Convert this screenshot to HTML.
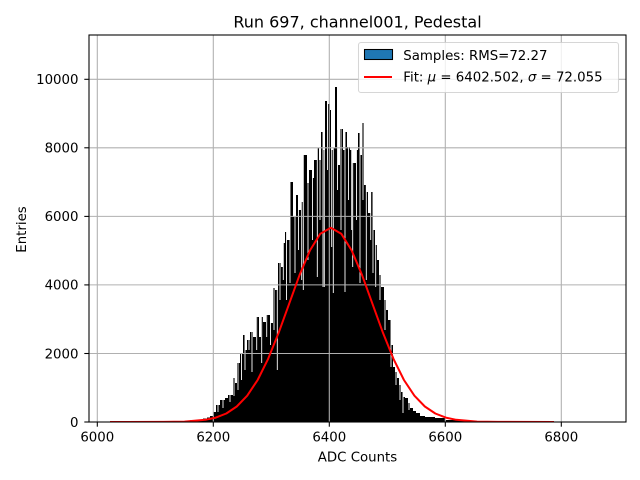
<!DOCTYPE html>
<html><head><meta charset="utf-8"><style>
html,body{margin:0;padding:0;background:#fff;}
svg{display:block;}
text{font-family:"DejaVu Sans","Liberation Sans",sans-serif;fill:#000;}
</style></head><body>
<svg width="640" height="480" viewBox="0 0 640 480" xmlns="http://www.w3.org/2000/svg">
<defs><clipPath id="ax"><rect x="89" y="35" width="537" height="387"/></clipPath></defs>
<rect x="0" y="0" width="640" height="480" fill="#fff"/>
<g clip-path="url(#ax)">
<path fill="#000" d="M110,422 V421.6 H150 V421.3 H175 V421 H190 V420.3 H197 V419.5 H203 V418.5 H207 V417.5 H210 V416 H213 V412 H216 V405 H220 V400 H225 V398 H228 V395 H233 V378 H235 V383 H237 V363 H240 V353 H243 V335 H245 V350 H247 V340 H250 V332 H253 V337 H256 V317 H259 V337 H261 V317 H263 V322 H266 V315 H270 V323 H273 V288 H275 V290 H278 V263 H281 V267 H283 V243 H285 V232 H287 V240 H290 V182 H293 V217 H296 V195 H298 V210 H301 V202 H303 V155 H307 V183 H309 V170 H312 V178 H314 V160 H317 V148 H319 V160 H321 V132 H323 V150 H325 V101 H327 V130 H328 V104 H330 V110 H331 V150 H333 V148 H335 V87 H337 V130 H338 V165 H340 V129 H343 V150 H345 V132 H347 V147 H350 V150 H352 V163 H356 V150 H358 V133 H360 V155 H362 V123 H364 V185 H366 V192 H368 V213 H371 V192 H373 V230 H375 V245 H377 V260 H379 V275 H381 V287 H384 V300 H386 V310 H388 V320 H391 V345 H393 V367 H395 V372 H397 V378 H399 V385 H401 V392 H403 V397 H405 V398 H408 V403 H410 V408 H413 V411 H416 V413 H420 V416 H425 V417 H435 V418 H445 V420 H460 V421 H480 V421.5 H500 V422 Z"/>
<g stroke="#fff" stroke-width="0.9">
<line x1="218" y1="405" x2="218" y2="412"/>
<line x1="223" y1="400" x2="223" y2="408"/>
<line x1="230" y1="395" x2="230" y2="402"/>
<line x1="234" y1="378" x2="234" y2="396"/>
<line x1="238" y1="360" x2="238" y2="390"/>
<line x1="241.5" y1="353" x2="241.5" y2="380"/>
<line x1="245" y1="335" x2="245" y2="370"/>
<line x1="249" y1="340" x2="249" y2="350"/>
<line x1="252" y1="332" x2="252" y2="372"/>
<line x1="256.7" y1="317" x2="256.7" y2="350"/>
<line x1="261.7" y1="317" x2="261.7" y2="363"/>
<line x1="266.7" y1="315" x2="266.7" y2="337"/>
<line x1="270.5" y1="315" x2="270.5" y2="345"/>
<line x1="274" y1="288" x2="274" y2="330"/>
<line x1="277.3" y1="263" x2="277.3" y2="370"/>
<line x1="280" y1="263" x2="280" y2="300"/>
<line x1="283.3" y1="243" x2="283.3" y2="280"/>
<line x1="286.5" y1="232" x2="286.5" y2="300"/>
<line x1="290" y1="182" x2="290" y2="283"/>
<line x1="295" y1="195" x2="295" y2="273"/>
<line x1="298.5" y1="195" x2="298.5" y2="250"/>
<line x1="301.7" y1="202" x2="301.7" y2="280"/>
<line x1="303.3" y1="155" x2="303.3" y2="290"/>
<line x1="308" y1="170" x2="308" y2="260"/>
<line x1="312.5" y1="170" x2="312.5" y2="240"/>
<line x1="317.3" y1="148" x2="317.3" y2="277"/>
<line x1="320" y1="148" x2="320" y2="220"/>
<line x1="323" y1="132" x2="323" y2="287"/>
<line x1="324.3" y1="101" x2="324.3" y2="287"/>
<line x1="327.5" y1="101" x2="327.5" y2="170"/>
<line x1="331.7" y1="110" x2="331.7" y2="247"/>
<line x1="333.3" y1="87" x2="333.3" y2="293"/>
<line x1="337.5" y1="87" x2="337.5" y2="190"/>
<line x1="341" y1="129" x2="341" y2="230"/>
<line x1="345" y1="132" x2="345" y2="292"/>
<line x1="348.5" y1="132" x2="348.5" y2="200"/>
<line x1="351.7" y1="150" x2="351.7" y2="230"/>
<line x1="352.7" y1="150" x2="352.7" y2="267"/>
<line x1="356.5" y1="150" x2="356.5" y2="220"/>
<line x1="360" y1="133" x2="360" y2="283"/>
<line x1="363" y1="123" x2="363" y2="200"/>
<line x1="366.3" y1="185" x2="366.3" y2="280"/>
<line x1="370.7" y1="192" x2="370.7" y2="240"/>
<line x1="373" y1="192" x2="373" y2="273"/>
<line x1="375.7" y1="230" x2="375.7" y2="287"/>
<line x1="380" y1="260" x2="380" y2="300"/>
<line x1="385" y1="287" x2="385" y2="330"/>
<line x1="391" y1="320" x2="391" y2="367"/>
<line x1="396" y1="367" x2="396" y2="385"/>
<line x1="400" y1="385" x2="400" y2="400"/>
<line x1="403" y1="392" x2="403" y2="413"/>
<line x1="409" y1="398" x2="409" y2="410"/>
</g>
<g stroke="#b0b0b0" stroke-width="1.07">
<line x1="97.3" y1="35" x2="97.3" y2="422"/>
<line x1="213.3" y1="35" x2="213.3" y2="422"/>
<line x1="329.3" y1="35" x2="329.3" y2="422"/>
<line x1="445.3" y1="35" x2="445.3" y2="422"/>
<line x1="561.3" y1="35" x2="561.3" y2="422"/>
<line x1="89" y1="79.3" x2="626" y2="79.3"/>
<line x1="89" y1="147.8" x2="626" y2="147.8"/>
<line x1="89" y1="216.4" x2="626" y2="216.4"/>
<line x1="89" y1="284.9" x2="626" y2="284.9"/>
<line x1="89" y1="353.5" x2="626" y2="353.5"/>
</g>
<polyline fill="none" stroke="#ff0000" stroke-width="2" stroke-linejoin="round" points="110,422 163.6,421.9 184.5,421.6 205.4,419.8 215.85,417.6 226.3,413.5 236.75,406.5 247.2,395.7 257.65,380.0 268.1,358.9 278.55,333.05 289.0,304.2 299.45,275.3 309.9,250.5 320.35,233.7 330.8,227.7 341.25,233.7 351.7,250.5 362.15,275.3 372.6,304.2 383.05,333.05 393.5,358.9 403.95,380.0 414.4,395.7 424.85,406.5 435.3,413.5 445.75,417.6 456.2,419.8 477.1,421.6 498,421.9 554,422"/>
</g>
<rect x="89" y="35" width="537" height="387" fill="none" stroke="#000" stroke-width="1.07"/>
<g stroke="#000" stroke-width="1.07">
<line x1="97.3" y1="422" x2="97.3" y2="426.7"/>
<line x1="213.3" y1="422" x2="213.3" y2="426.7"/>
<line x1="329.3" y1="422" x2="329.3" y2="426.7"/>
<line x1="445.3" y1="422" x2="445.3" y2="426.7"/>
<line x1="561.3" y1="422" x2="561.3" y2="426.7"/>
<line x1="84.3" y1="422" x2="89" y2="422"/>
<line x1="84.3" y1="353.5" x2="89" y2="353.5"/>
<line x1="84.3" y1="284.9" x2="89" y2="284.9"/>
<line x1="84.3" y1="216.4" x2="89" y2="216.4"/>
<line x1="84.3" y1="147.8" x2="89" y2="147.8"/>
<line x1="84.3" y1="79.3" x2="89" y2="79.3"/>
</g>
<g font-size="13.33" text-anchor="middle">
<text x="97.3" y="441.5">6000</text>
<text x="213.3" y="441.5">6200</text>
<text x="329.3" y="441.5">6400</text>
<text x="445.3" y="441.5">6600</text>
<text x="561.3" y="441.5">6800</text>
</g>
<g font-size="13.33" text-anchor="end">
<text x="78.5" y="426.8">0</text>
<text x="78.5" y="358.3">2000</text>
<text x="78.5" y="289.7">4000</text>
<text x="78.5" y="221.2">6000</text>
<text x="78.5" y="152.6">8000</text>
<text x="78.5" y="84.1">10000</text>
</g>
<text x="357.5" y="461.5" font-size="13.33" text-anchor="middle">ADC Counts</text>
<text transform="translate(26,229.5) rotate(-90)" font-size="13.33" text-anchor="middle">Entries</text>
<text x="357.5" y="27.3" font-size="16" text-anchor="middle">Run 697, channel001, Pedestal</text>
<rect x="358.5" y="42.5" width="260" height="50" rx="2.5" fill="#fff" fill-opacity="0.8" stroke="#cccccc" stroke-opacity="0.8" stroke-width="1.07"/>
<rect x="364.5" y="49.5" width="28" height="10" fill="#1f77b4" stroke="#000" stroke-width="1.07"/>
<line x1="364" y1="77" x2="392" y2="77" stroke="#ff0000" stroke-width="2"/>
<text x="403.3" y="60" font-size="13.33">Samples: RMS=72.27</text>
<text x="403.3" y="81.5" font-size="13.33">Fit: <tspan font-style="italic">μ</tspan> = 6402.502, <tspan font-style="italic">σ</tspan> = 72.055</text>
</svg>
</body></html>
